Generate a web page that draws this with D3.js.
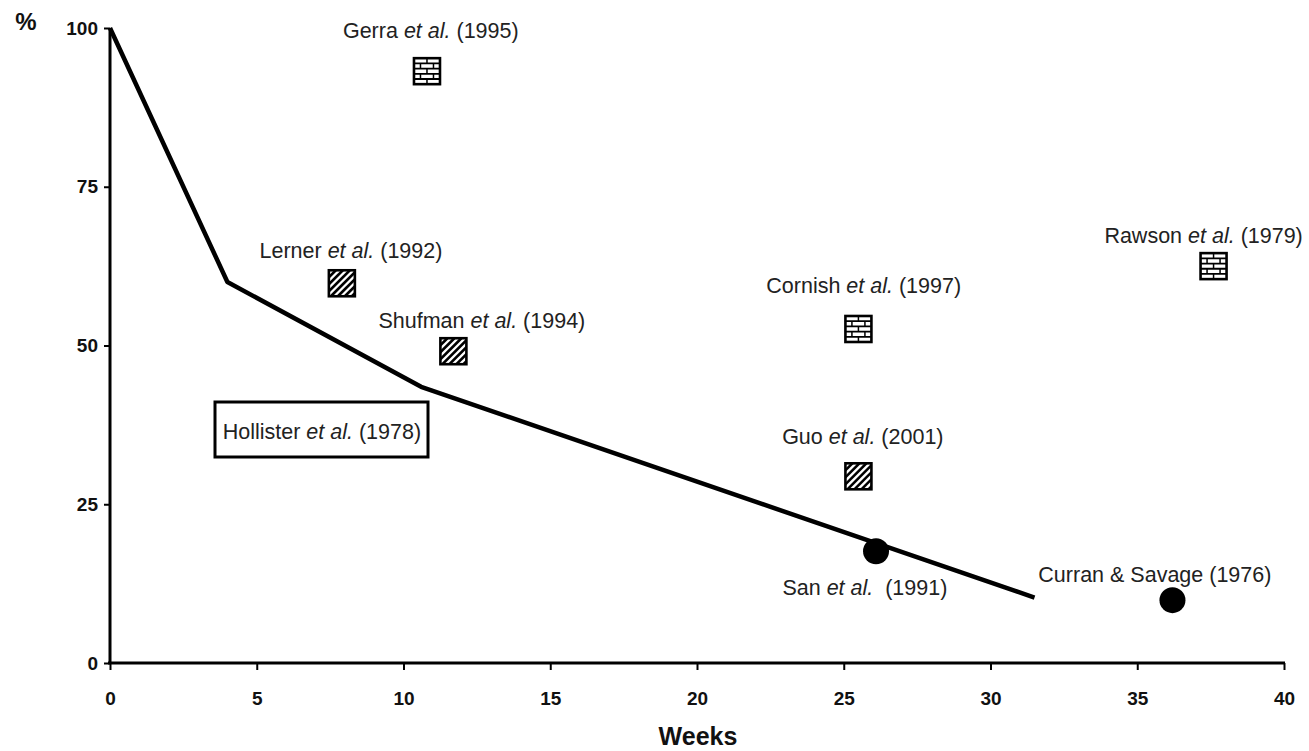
<!DOCTYPE html>
<html><head><meta charset="utf-8">
<script src="https://cdn.jsdelivr.net/npm/d3@7"></script>
<style>
body{margin:0;background:#fff;}
text{font-family:"Liberation Sans",Arial,sans-serif;}
</style></head>
<body><svg id="c" width="1309" height="751"></svg>
<script>
// ---- data ----
const xTicks = [0,5,10,15,20,25,30,35,40];
const yTicks = [0,25,50,75,100];
const lineWeeks = [0, 4, 10.6, 31.5];
const linePct   = [100, 60, 43.5, 10.3];
const studies   = ["Gerra", "Lerner", "Shufman", "Cornish", "Guo", "Rawson", "San", "Curran & Savage (1976)"];
const studyYear = ["(1995)", "(1992)", "(1994)", "(1997)", "(2001)", "(1979)", " (1991)", ""];
const studyWeeks= [10.8, 7.9, 11.7, 25.5, 25.5, 37.6, 26.1, 36.2];
const studyPct  = [93.2, 59.8, 49.1, 52.6, 29.4, 62.5, 17.6, 9.9];
const studyType = ["brick","hatch","hatch","brick","hatch","brick","circle","circle"];
const labelWeeks= [10.93, 8.21, 12.67, 25.68, 25.65, 37.26, 25.72, 35.6];
const labelPct  = [98.4, 63.8, 52.8, 58.3, 34.5, 66.1, 10.7, 12.8];
const boxLabel = {name:"Hollister", year:"(1978)", weeks:7.22, pct:35.3};

const svg = d3.select("#c");
const x = d3.scaleLinear().domain([0,40]).range([110,1284]);
const y = d3.scaleLinear().domain([0,100]).range([663,28]);

// axes
const gx = svg.append("g").attr("transform","translate(0,663)")
  .call(d3.axisBottom(x).tickValues(xTicks).tickSize(7).tickPadding(22).tickSizeOuter(0));
const gy = svg.append("g").attr("transform","translate(110,0)")
  .call(d3.axisLeft(y).tickValues(yTicks).tickSize(6).tickPadding(6).tickSizeOuter(0));
[gx,gy].forEach(g=>{
  g.attr("font-size",null).attr("font-family",null);
  g.select(".domain").attr("stroke","#000").attr("stroke-width",3);
  g.selectAll(".tick line").attr("stroke","#000").attr("stroke-width",2);
  g.selectAll(".tick text").attr("fill","#111").style("font-size","19px").attr("font-weight","bold")
   .style("font-family","'Liberation Sans',Arial,sans-serif");
});
gx.select(".domain").attr("d","M108,0H1285");
gy.select(".domain").attr("d","M0,28V664");

svg.append("text").attr("x",26).attr("y",30).attr("text-anchor","middle")
  .attr("font-size",24).attr("font-weight","bold").attr("fill","#111").text("%");
svg.append("text").attr("x",698).attr("y",745).attr("text-anchor","middle")
  .attr("font-size",25).attr("font-weight","bold").attr("fill","#111").text("Weeks");

// line
const pts = lineWeeks.map((w,i)=>[w,linePct[i]]);
svg.append("path").datum(pts)
  .attr("d", d3.line().x(d=>x(d[0])).y(d=>y(d[1])))
  .attr("fill","none").attr("stroke","#000").attr("stroke-width",4.5).attr("stroke-linejoin","round");

// markers
const defs = svg.append("defs");
const S = 26;
studies.forEach((s,i)=>{
  const cx = x(studyWeeks[i]), cy = y(studyPct[i]);
  const g = svg.append("g");
  if(studyType[i]==="circle"){
    g.append("circle").attr("cx",cx).attr("cy",cy).attr("r",13).attr("fill","#000");
    return;
  }
  const x0 = cx-S/2, y0 = cy-S/2;
  const cid = "clip"+i;
  defs.append("clipPath").attr("id",cid).append("rect").attr("x",x0).attr("y",y0).attr("width",S).attr("height",S);
  g.append("rect").attr("x",x0).attr("y",y0).attr("width",S).attr("height",S).attr("fill","#fff");
  const inner = g.append("g").attr("clip-path",`url(#${cid})`);
  if(studyType[i]==="hatch"){
    for(let k=-S; k<2*S; k+=7){
      inner.append("line").attr("x1",x0+k).attr("y1",y0+S).attr("x2",x0+k+S).attr("y2",y0)
        .attr("stroke","#000").attr("stroke-width",2.6);
    }
  } else {
    const rows = 5, rh = S/rows;
    for(let r=1;r<rows;r++){
      inner.append("line").attr("x1",x0).attr("x2",x0+S).attr("y1",y0+r*rh).attr("y2",y0+r*rh)
        .attr("stroke","#000").attr("stroke-width",1.8);
    }
    for(let r=0;r<rows;r++){
      const offs = r%2===0 ? [S*0.5] : [S*0.25, S*0.75];
      offs.forEach(o=>{
        inner.append("line").attr("x1",x0+o).attr("x2",x0+o).attr("y1",y0+r*rh).attr("y2",y0+(r+1)*rh)
          .attr("stroke","#000").attr("stroke-width",1.5);
      });
    }
  }
  g.append("rect").attr("x",x0).attr("y",y0).attr("width",S).attr("height",S)
    .attr("fill","none").attr("stroke","#000").attr("stroke-width",2.6);
});

// Hollister box (drawn before its label)
svg.append("rect").attr("x",215).attr("y",402).attr("width",213).attr("height",55)
  .attr("fill","#fff").attr("stroke","#000").attr("stroke-width",3);

// labels
function label(name, year, tx, ty){
  const txt = svg.append("text").attr("x",tx).attr("y",ty).attr("text-anchor","middle")
    .attr("font-size",21.5).attr("fill","#222").attr("xml:space","preserve");
  if(year===""){ txt.text(name); return txt; }
  txt.append("tspan").text(name+" ");
  txt.append("tspan").attr("font-style","italic").text("et al.");
  txt.append("tspan").text(" "+year);
  return txt;
}
studies.forEach((s,i)=>{
  label(s, studyYear[i], x(labelWeeks[i]), y(labelPct[i]));
});
label(boxLabel.name, boxLabel.year, x(boxLabel.weeks), y(boxLabel.pct));
</script></body></html>
